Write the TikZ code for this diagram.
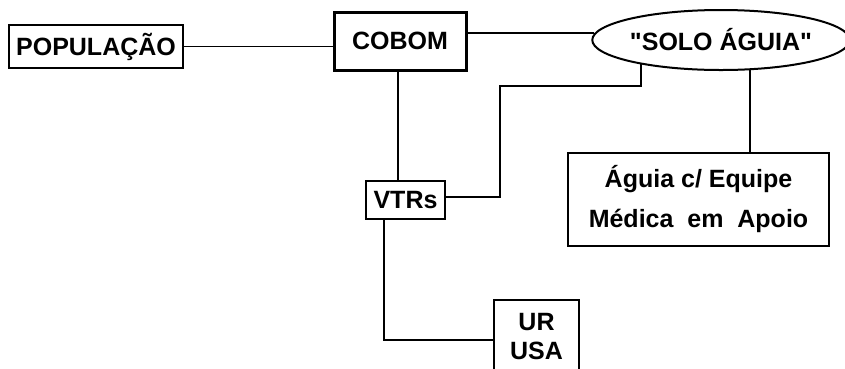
\documentclass[tikz,border=0pt]{standalone}
\usepackage{fontspec}
\setmainfont{Liberation Sans}[Ligatures=TeXOff]
\usepackage{tikz}
\usetikzlibrary{positioning,shapes.geometric,calc}
\tikzset{
  box/.style ={draw=black, line width=1.5pt, inner sep=0pt, align=center},
  boxb/.style={draw=black, line width=3pt, inner sep=0pt, align=center},
  oval/.style={ellipse, draw=black, line width=2pt, inner sep=0pt, minimum width=248pt, minimum height=60pt},
  link/.style={draw=black, line width=1.8pt},
}

\begin{document}
\begin{tikzpicture}[x=1pt,y=-1pt,font=\bfseries\fontsize{25}{33}\selectfont]
        \useasboundingbox (0,0) rectangle (845,368);
        \clip (0,0) rectangle (845,368);
        \node[box,minimum width=174pt,minimum height=43pt] (pop) at (96,46.5) {POPULAÇÃO};
        \node[boxb,minimum width=132pt,minimum height=58pt] (cobom) at (400,41) {COBOM};
        \node[oval] (solo) at (721,40) {"SOLO ÁGUIA"};
        \node[box,minimum width=79pt,minimum height=38pt] (vtrs) at (405.5,200) {VTRs};
        \node[box,minimum width=261pt,minimum height=93pt] (aguia) at (698.5,199.5) {Águia c/ Equipe\\[7pt]Médica~ em~ Apoio};
        \node[box,minimum width=85pt,minimum height=80pt,anchor=north] (ur) at (536.5,299) {};
        \node[font=\bfseries\fontsize{25}{29}\selectfont,align=center] (urtxt) at (536.5,337) {UR\\USA};
        \coordinate (jog) at (500,86);
        \draw[link] (pop.east) -- (pop.east -| cobom.west);
        \draw[link] (cobom.east |- solo.177) -- (solo.177);
        \draw[link] ([xshift=-2pt]cobom.south) -- ([xshift=-2pt]cobom.south |- vtrs.north);
        \draw[link] ([yshift=3pt]vtrs.east) -| (jog) -| (solo.197);
        \draw[link] (solo.314) -- (solo.314 |- aguia.north);
        \draw[link] ([xshift=-21.5pt]vtrs.south) |- (ur.west);
      \end{tikzpicture}
\end{document}
